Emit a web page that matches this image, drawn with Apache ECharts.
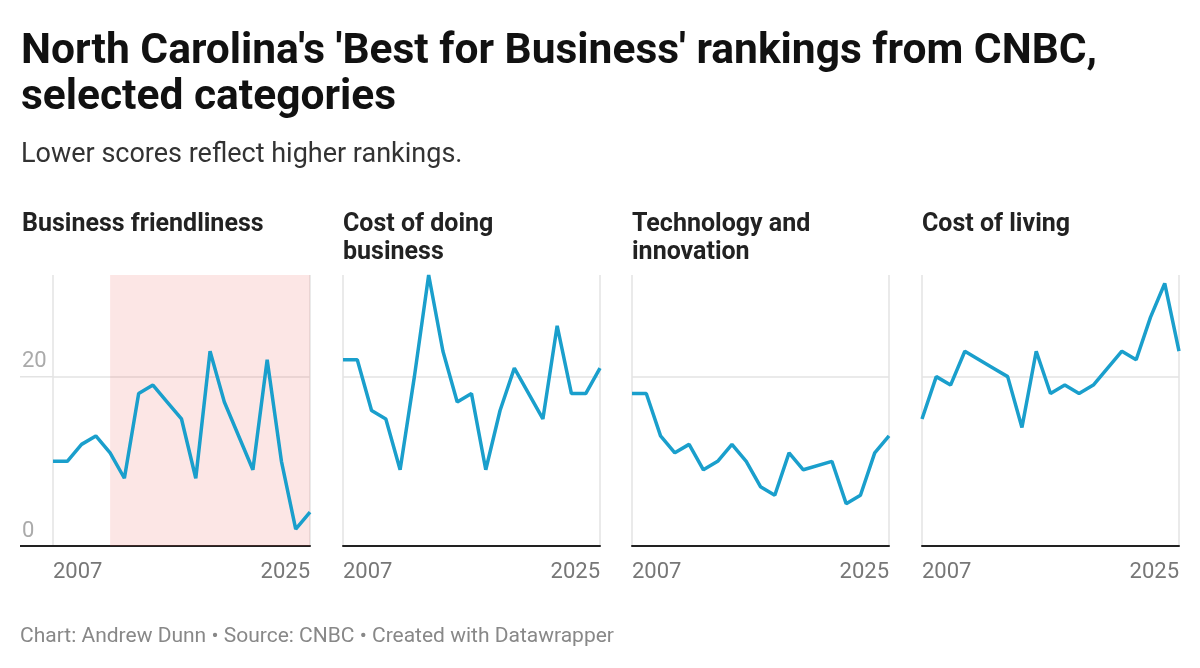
<!DOCTYPE html>
<html style="height: 100%" lang="en">

<head>
  <meta charset="utf-8">
  <script type="text/javascript" src="https://cdn.jsdelivr.net/npm/echarts@6/dist/echarts.min.js"></script>
</head>

<body style="height: 100%; margin: 0; background: #fff">
  <div id="container" style="width: 1200px; height: 668px"></div>
  <script type="text/javascript">
    // CNBC rank per year (no ranking published in 2020)
    var years = [2007, 2008, 2009, 2010, 2011, 2012, 2013, 2014, 2015, 2016,
      2017, 2018, 2019, 2020, 2021, 2022, 2023, 2024, 2025];
    var businessFriendliness = [10, 10, 12, 13, 11, 8, 18, 19, 17, 15, 8, 23, 17, null, 9, 22, 10, 2, 4];
    var costOfDoingBusiness = [22, 22, 16, 15, 9, 20, 32, 23, 17, 18, 9, 16, 21, null, 15, 26, 18, 18, 21];
    var techAndInnovation = [18, 18, 13, 11, 12, 9, 10, 12, 10, 7, 6, 11, 9, null, 10, 5, 6, 11, 13];
    var costOfLiving = [15, 20, 19, 23, 22, 21, 20, 14, 23, 18, 19, 18, 19, null, 23, 22, 27, 31, 23];

    var panelTitles = ['Business friendliness', 'Cost of doing\nbusiness', 'Technology and\ninnovation', 'Cost of living'];
    var panelSeries = [businessFriendliness, costOfDoingBusiness, techAndInnovation, costOfLiving];
    var shadedYears = [2011, 2025];

    var dom = document.getElementById("container");
    var myChart = echarts.init(dom);

    var font = 'Roboto';
    var gridLefts = [53, 343, 632, 922];
    var gridWidth = 257;
    var gridTop = 275;
    var gridHeight = 271;
    var gridColor = '#e3e3e3';
    var lineColor = '#1a9fcc';

    function pairs(vals) {
      return years.map(function(y, i) { return [y, vals[i]]; });
    }

    var titles = [{
      text: "North Carolina's 'Best for Business' rankings from CNBC,\nselected categories",
      left: 21, top: 29, padding: 0,
      textStyle: { fontFamily: font, fontSize: 42.5, fontWeight: 'bold', color: '#111', lineHeight: 46 }
    }, {
      text: 'Lower scores reflect higher rankings.',
      left: 21, top: 141, padding: 0,
      textStyle: { fontFamily: font, fontSize: 27, fontWeight: 'normal', color: '#333', lineHeight: 28 }
    }, {
      text: 'Chart: Andrew Dunn • Source: CNBC • Created with Datawrapper',
      left: 20, top: 626, padding: 0,
      textStyle: { fontFamily: font, fontSize: 21, fontWeight: 'normal', color: '#888', lineHeight: 22 }
    }];
    panelTitles.forEach(function(t, i) {
      titles.push({
        text: t,
        left: i === 0 ? 22 : gridLefts[i], top: 211, padding: 0,
        textStyle: { fontFamily: font, fontSize: 25, fontWeight: 'bold', color: '#222', lineHeight: 28 }
      });
    });

    var grids = [], xAxes = [], yAxes = [], series = [];
    panelSeries.forEach(function(vals, i) {
      grids.push({ left: gridLefts[i], top: gridTop, width: gridWidth, height: gridHeight });
      xAxes.push({
        type: 'value', gridIndex: i, min: 2007, max: 2025, interval: 18,
        axisLine: { show: true, lineStyle: { color: '#222', width: 2 } },
        axisTick: { show: false },
        axisLabel: {
          fontFamily: font, fontSize: 22, color: '#777', margin: 15,
          alignMinLabel: 'left', alignMaxLabel: 'right',
          formatter: function(v) { return String(v); }
        },
        splitLine: { show: true, lineStyle: { color: gridColor, width: 1.5 } }
      });
      yAxes.push({
        type: 'value', gridIndex: i, min: 0, max: 32, interval: 20,
        axisLine: { show: false },
        axisTick: { show: false },
        axisLabel: {
          show: i === 0, showMaxLabel: false,
          fontFamily: font, fontSize: 22, color: '#aaa',
          align: 'left', verticalAlign: 'bottom', margin: 31, padding: [0, 0, 4, 0]
        },
        splitLine: { show: true, showMinLine: false, showMaxLine: false, lineStyle: { color: gridColor, width: 1.5 } }
      });
      var s = {
        type: 'line', xAxisIndex: i, yAxisIndex: i,
        data: pairs(vals),
        connectNulls: true,
        showSymbol: false,
        symbol: 'none',
        silent: true,
        lineStyle: { color: lineColor, width: 3.5 },
        z: 5
      };
      if (i === 0) {
        s.markArea = {
          silent: true,
          itemStyle: { color: 'rgba(235, 90, 80, 0.15)' },
          data: [[{ xAxis: shadedYears[0] }, { xAxis: shadedYears[1] }]]
        };
      }
      series.push(s);
    });

    var option = {
      animation: false,
      title: titles,
      grid: grids,
      xAxis: xAxes,
      yAxis: yAxes,
      series: series
    };
    myChart.setOption(option);

    // first panel: gridline and baseline run out under the y labels
    var p20 = myChart.convertToPixel({ gridIndex: 0 }, [2007, 20]);
    var p0 = myChart.convertToPixel({ gridIndex: 0 }, [2007, 0]);
    myChart.setOption({
      graphic: [{
        type: 'line', silent: true, z: 1,
        shape: { x1: 20, y1: p20[1], x2: p20[0], y2: p20[1] },
        style: { stroke: gridColor, lineWidth: 1.5 }
      }, {
        type: 'line', silent: true, z: 10,
        shape: { x1: 20, y1: p0[1], x2: p0[0], y2: p0[1] },
        style: { stroke: '#222', lineWidth: 2 }
      }]
    });
  </script>
</body>

</html>
